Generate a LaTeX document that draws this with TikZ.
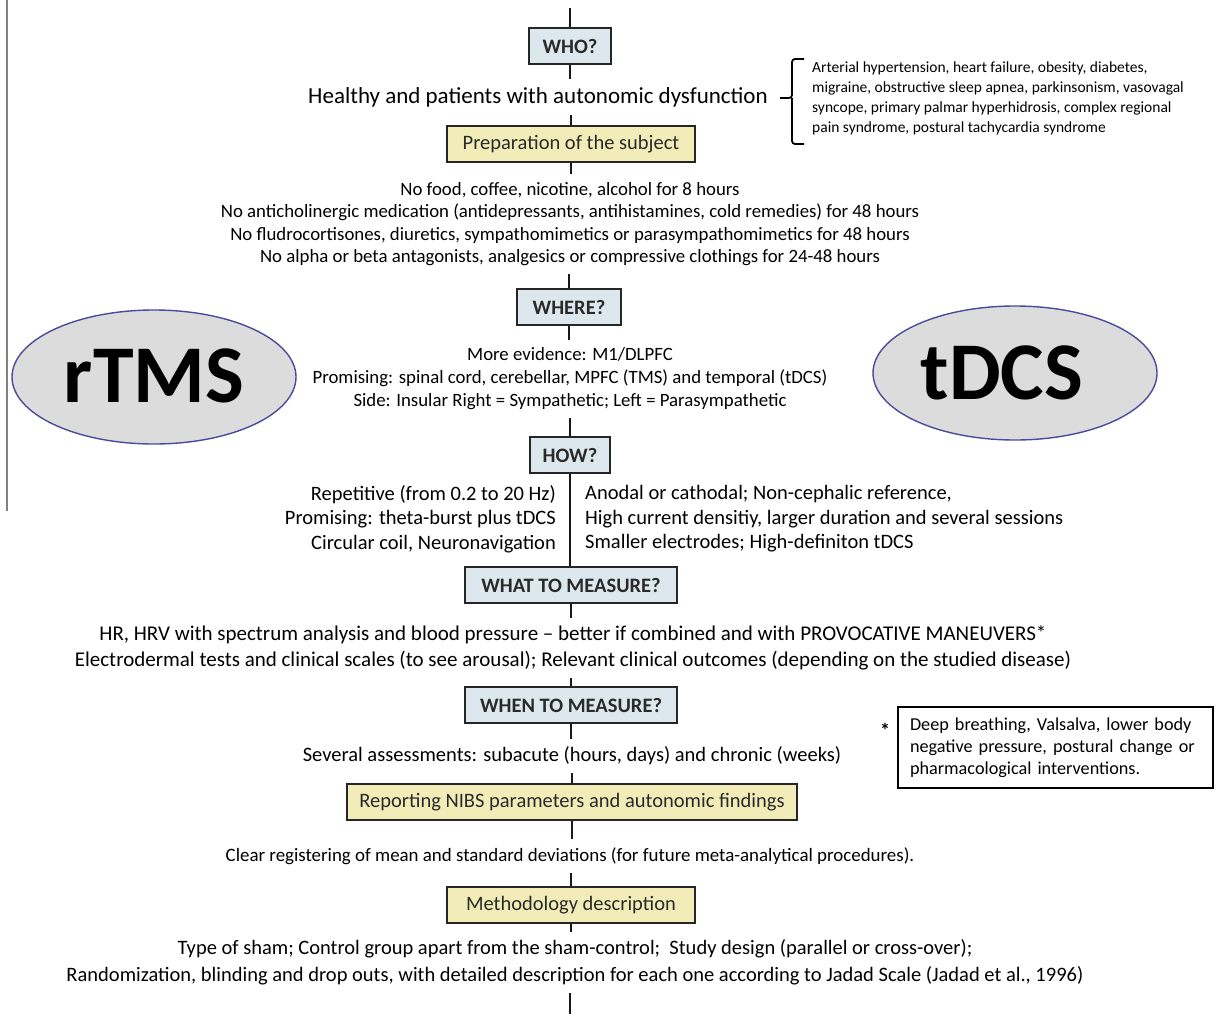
\documentclass[tikz,border=0pt]{standalone}
\usepackage{fontspec}
\setmainfont{Carlito}
\usetikzlibrary{shapes.geometric}
\definecolor{qblue}{HTML}{DDE8EE}
\definecolor{qyellow}{HTML}{F2EDB8}
\definecolor{ellfill}{HTML}{DCDCDC}
\definecolor{ellline}{HTML}{4B4B9B}
\definecolor{boxtext}{HTML}{2A2A2A}
\begin{document}
\begin{tikzpicture}[x=1pt,y=-1pt,
  qbox/.style={draw=black!85,line width=1.6pt,fill=qblue,minimum height=36pt,inner xsep=0pt,font=\fontsize{20.5}{22}\selectfont\bfseries,text=boxtext},
  ybox/.style={draw=black!85,line width=1.6pt,fill=qyellow,minimum height=36pt,inner xsep=0pt,font=\fontsize{20.5}{22}\selectfont,text=boxtext},
  txt/.style={align=center,inner xsep=0pt,inner ysep=8pt,font=\fontsize{18.8}{22.5}\selectfont},
  link/.style={line width=2.5pt,black!90},
  ell/.style={ellipse,draw=ellline,line width=1.4pt,fill=ellfill,minimum width=284pt,minimum height=134pt,inner sep=0pt},
  elltext/.style={inner sep=0pt,font=\fontsize{82}{84}\selectfont\bfseries}
]
\useasboundingbox[fill=white] (0,0) rectangle (1222,1014);
\draw[line width=2pt,gray] (7,0) -- (7,511);

\coordinate (top) at (570,8);
\coordinate (bot) at (570,1014);

\node[qbox,minimum width=82pt] (who) at (570,46) {WHO?};
\node[txt,font=\fontsize{23}{26}\selectfont] (t1) at (538,97) {Healthy and patients with autonomic dysfunction};
\node[ybox,minimum width=248pt] (prep) at (571,144) {Preparation of the subject};
\node[txt] (t2) at (570,224) {No food, coffee, nicotine, alcohol for 8 hours\\
No anticholinergic medication (antidepressants, antihistamines, cold remedies) for 48 hours\\
No fludrocortisones, diuretics, sympathomimetics or parasympathomimetics for 48 hours\\
No alpha or beta antagonists, analgesics or compressive clothings for 24-48 hours};
\node[qbox,minimum width=104pt] (where) at (569,307) {WHERE?};
\node[txt,font=\fontsize{18.8}{23}\selectfont] (t3) at (570,379) {More evidence: M1/DLPFC\\
Promising: spinal cord, cerebellar, MPFC (TMS) and temporal (tDCS)\\
Side: Insular Right = Sympathetic; Left = Parasympathetic};
\node[qbox,minimum width=80pt] (how) at (570,455) {HOW?};
\node[txt,align=right,anchor=east,inner sep=0pt,font=\fontsize{20.5}{24.5}\selectfont] (lcol) at (556,519) {Repetitive (from 0.2 to 20 Hz)\\
Promising: theta-burst plus tDCS\\
Circular coil, Neuronavigation};
\node[txt,align=left,anchor=west,inner sep=0pt,font=\fontsize{20.5}{24.5}\selectfont] (rcol) at (585,519) {Anodal or cathodal; Non-cephalic reference,\\
High current densitiy, larger duration and several sessions\\
Smaller electrodes; High-definiton tDCS};
\node[qbox,minimum width=212pt] (what) at (571,585) {WHAT TO MEASURE?};
\node[txt,font=\fontsize{21}{26}\selectfont] (t4) at (573,648) {HR, HRV with spectrum analysis and blood pressure -- better if combined and with PROVOCATIVE MANEUVERS*\\
Electrodermal tests and clinical scales (to see arousal); Relevant clinical outcomes (depending on the studied disease)};
\node[qbox,minimum width=212pt] (when) at (571,705) {WHEN TO MEASURE?};
\node[txt,font=\fontsize{20.5}{22}\selectfont] (t5) at (572,756) {Several assessments: subacute (hours, days) and chronic (weeks)};
\node[ybox,minimum width=450pt] (report) at (572,802) {Reporting NIBS parameters and autonomic findings};
\node[txt,font=\fontsize{18.9}{22}\selectfont] (t6) at (570,856) {Clear registering of mean and standard deviations (for future meta-analytical procedures).};
\node[ybox,minimum width=248pt] (meth) at (571,905) {Methodology description};
\node[txt,font=\fontsize{20.5}{27}\selectfont] (t7) at (575,962.5) {Type of sham; Control group apart from the sham-control;\ \ Study design (parallel or cross-over);\\
Randomization, blinding and drop outs, with detailed description for each one according to Jadad Scale (Jadad et al., 1996)};

\draw[link] (who.north |- top) -- (who.north);
\draw[link] (who.south) -- (who.south |- t1.north);
\draw[link] (prep.north |- t1.south) -- (prep.north);
\draw[link] (prep.south) -- (prep.south |- t2.north);
\draw[link] (where.north |- t2.south) -- (where.north);
\draw[link] (where.south) -- (where.south |- t3.north);
\draw[link] (how.north |- t3.south) -- (how.north);
\draw[link] (how.south) -- (how.south |- what.north);
\draw[link] (what.south) -- (what.south |- t4.north);
\draw[link] (when.north |- t4.south) -- (when.north);
\draw[link] (when.south) -- (when.south |- t5.north);
\draw[link] (report.north |- t5.south) -- (report.north);
\draw[link] (report.south) -- (report.south |- t6.north);
\draw[link] (meth.north |- t6.south) -- (meth.north);
\draw[link] (meth.south) -- (meth.south |- t7.north);
\draw[link] (bot |- t7.south) -- (bot);

\node[ell] (rtms) at (154,377) {};
\node[elltext] (rtmslabel) at (154,376) {rTMS};
\node[ell] (tdcs) at (1015,373) {};
\node[elltext] (tdcslabel) at (1002,373) {tDCS};

\node[align=left,anchor=west,inner sep=0pt,font=\fontsize{15.5}{20}\selectfont] (dis) at (812,98) {Arterial hypertension, heart failure, obesity, diabetes,\\
migraine, obstructive sleep apnea, parkinsonism, vasovagal\\
syncope, primary palmar hyperhidrosis, complex regional\\
pain syndrome, postural tachycardia syndrome};
\draw[line width=1.8pt,rounded corners=3pt] ([xshift=-8pt]dis.north west |- 0,59) -- ([xshift=-20pt]dis.north west |- 0,59) -- ([xshift=-20pt]dis.west) -- ([xshift=-32pt]dis.west);
\draw[line width=1.8pt,rounded corners=3pt] ([xshift=-20pt]dis.west) -- ([xshift=-20pt]dis.south west |- 0,144) -- ([xshift=-8pt]dis.south west |- 0,144);

\node[draw,line width=1.3pt,minimum width=315pt,minimum height=81pt,text width=291pt,align=left,inner xsep=12pt,font=\fontsize{18.2}{22}\selectfont] (note) at (1055.5,747.5) {Deep breathing, Valsalva, lower body\\
negative pressure, postural change or\\
pharmacological interventions.};
\node[font=\fontsize{20}{20}\selectfont\bfseries,inner sep=0pt] (star) at (885,730) {*};
\end{tikzpicture}
\end{document}
